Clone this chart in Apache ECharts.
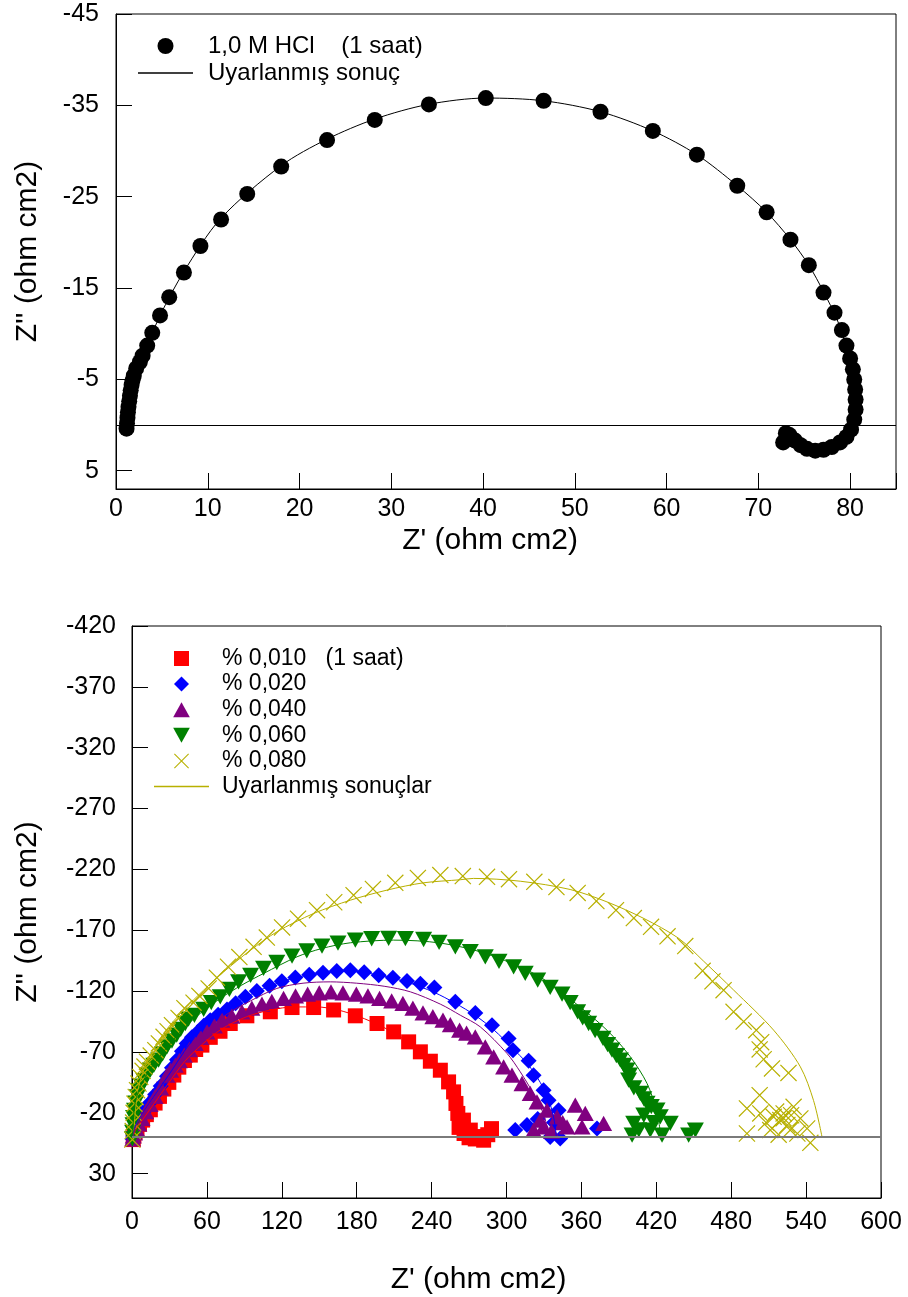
<!DOCTYPE html>
<html>
<head>
<meta charset="utf-8">
<title>Nyquist diyagramları</title>
<script src="https://cdn.jsdelivr.net/npm/echarts@6/dist/echarts.min.js"></script>
<style>
  html, body { margin: 0; padding: 0; background: #fff; }
  #chart { width: 908px; height: 1297px; }
</style>
</head>
<body>
<div id="chart"></div>
<script>
// ---- Top panel: 1,0 M HCl, 1 saat ----
const hclName = '1,0 M HCl    (1 saat)';
const hclFitName = 'Uyarlanmış sonuç';
const hclData = [
  [1.15, 0.4], [1.2, -0.2], [1.25, -0.8], [1.3, -1.4], [1.36, -2.0], [1.44, -2.6],
  [1.52, -3.2], [1.6, -3.8], [1.7, -4.4], [1.8, -4.9], [1.94, -5.4], [2.2, -6.2],
  [2.6, -6.9], [2.9, -7.6], [3.4, -8.7], [3.95, -10.1], [4.8, -12.0], [5.8, -14.0],
  [7.4, -16.7], [9.2, -19.6], [11.45, -22.5], [14.3, -25.3], [18.0, -28.3], [23.0, -31.2],
  [28.2, -33.4], [34.1, -35.1], [40.3, -35.8], [46.6, -35.5], [52.8, -34.3], [58.5, -32.2],
  [63.3, -29.6], [67.7, -26.2], [70.9, -23.3], [73.5, -20.3], [75.5, -17.5], [77.1, -14.5],
  [78.3, -12.3], [79.1, -10.4], [79.6, -8.7], [80.0, -7.3], [80.3, -6.1], [80.45, -5.0],
  [80.55, -3.9], [80.6, -2.8], [80.6, -1.7], [80.45, -0.6], [80.1, 0.5], [79.6, 1.3],
  [78.9, 1.9], [78.0, 2.4], [77.1, 2.7], [76.2, 2.8], [75.3, 2.6], [74.6, 2.2],
  [74.0, 1.7], [73.4, 1.1], [73.0, 0.9], [72.7, 1.9]
];
const hclFit = [
  [1.1, 0.3], [1.5, -3.0], [2.2, -6.2], [3.4, -8.7], [4.8, -12.0], [7.4, -16.8],
  [11.4, -22.6], [18.0, -28.4], [23.0, -31.3], [28.2, -33.5], [34.0, -35.1], [40.3, -35.8],
  [46.6, -35.5], [52.8, -34.3], [58.5, -32.2], [63.3, -29.6], [67.7, -26.2], [70.9, -23.3],
  [73.5, -20.3], [75.5, -17.5], [77.1, -14.6], [78.6, -11.5], [79.6, -8.5], [80.2, -5.5],
  [80.5, -2.5], [80.5, 0]
];
const topXTicks = [0, 10, 20, 30, 40, 50, 60, 70, 80];
const topYTicks = [-45, -35, -25, -15, -5, 5];

// ---- Bottom panel: inhibitor concentrations ----
const names = ['% 0,010   (1 saat)', '% 0,020', '% 0,040', '% 0,060', '% 0,080'];
const fitName = 'Uyarlanmış sonuçlar';

const p010 = [
  [1, 2], [1.5, -1], [2.5, -4], [4, -7], [6, -10.5], [8.5, -14], [11.5, -18.5], [14.7, -22.5],
  [18.5, -28], [22, -33.5], [25.5, -39.5], [29.5, -45], [33.5, -51], [37.5, -57.5], [42, -63],
  [46.7, -67.4], [51, -72], [56, -75.6], [62.7, -82], [70.5, -87], [78.7, -93.4], [92, -99.7],
  [110.8, -103], [128.2, -106.5], [145.5, -106.5], [161.5, -104.5], [178.9, -99.7], [196.3, -93.4],
  [209.6, -86.5], [221.6, -78.3], [231, -70.1], [239, -62.4], [247, -55], [253.6, -45.4],
  [257.6, -37.2], [259.5, -27.7], [261, -19.5], [265.5, -14], [262, -8], [266, -3], [271, -5.8],
  [270, 0.5], [275, 1.5], [280, 1], [276.4, -0.5], [285, -2], [288, -7], [281.7, 2.5]
];
const p020 = [
  [0.5, 1.5], [1, -1], [2, -4], [3.5, -8], [5.5, -12], [8, -17], [11, -22.5], [14.5, -28.5],
  [18.5, -35], [23, -42], [28, -50], [32, -57], [36, -63.5], [40, -70.5], [43.8, -77], [48, -82],
  [52.6, -86.5], [57.5, -91.5], [62.7, -96.1], [69, -100.5], [76.1, -104.9], [83, -110],
  [90.8, -115.3], [100, -120], [110.2, -124.3], [120, -128], [130.8, -131.2], [142, -133.5],
  [153, -135], [164, -136.5], [174.9, -137.2], [186, -135.5], [197.6, -133.1], [209, -131],
  [220.3, -128.4], [231, -126], [242.2, -123], [259, -111.2], [275, -102.1], [288.4, -92],
  [301.7, -81.1], [305.2, -71.5], [317.7, -62.7], [321.7, -50.9], [329.7, -38.6], [333.7, -30.4],
  [341.7, -22.2], [325, -15], [338, -12], [307, -5.8], [316.4, -9.9], [335, -0.2], [343, 1.1],
  [372.5, -7.1]
];
const p040 = [
  [0.5, 1.5], [1, -1], [2, -3.5], [3.5, -7], [5.5, -11], [8, -15.5], [11, -21], [14.5, -27],
  [18.5, -33.5], [23, -40.5], [28, -50.9], [31, -55], [34.7, -59.2], [38, -63], [41.9, -67.4],
  [46, -72], [50.7, -77], [55, -82], [60.1, -86.5], [66, -91.5], [72.1, -96.1], [80, -99.5],
  [88.1, -103], [96, -106], [104.1, -109.3], [112, -111.5], [121.4, -114], [131, -116],
  [140.7, -117.5], [150, -118.5], [159.4, -119.4], [169, -118.5], [179.7, -117.5], [189, -116],
  [198.3, -114], [208, -112], [217, -109.9], [225, -106], [233.1, -102.1], [241, -99],
  [249.1, -96.1], [255, -92.5], [262.4, -87.9], [268, -85.5], [275, -82.4], [283, -74.2],
  [289.7, -66], [297.7, -57.8], [304.4, -50.9], [312.4, -44.1], [319, -35.9], [324.4, -29],
  [332.4, -22.2], [340.5, -16.7], [355.1, -26.3], [363.1, -19.5], [377.8, -11.3], [321.7, -5.8],
  [348.5, -8.5], [360.5, -8.5], [329.7, -8.5], [327, -14], [336, -5], [345, -12]
];
const p060 = [
  [0.3, 1.5], [0.5, -4], [0.8, -10], [1.2, -16], [2, -22], [3, -28], [4.3, -33], [5.8, -38],
  [7.5, -42], [9.5, -46.5], [12, -51], [14.7, -55], [17.5, -59], [21.3, -63.3], [24.5, -68.5],
  [28, -74.2], [32, -79], [35.8, -83.8], [39, -88.5], [42.7, -93.4], [45.3, -97], [50, -100],
  [57.4, -105], [63.5, -110.5], [70.7, -115.3], [78, -121.5], [85.4, -127.6], [95, -133],
  [105.4, -138.6], [116, -143.5], [128.2, -148.7], [140, -153], [152.2, -157], [165, -159.5],
  [178.9, -161.9], [192, -163], [205.6, -163.3], [219, -163.2], [233.6, -162.4], [246, -160],
  [259, -156.4], [271, -152.5], [283, -148.2], [294, -144.5], [305.7, -139.9], [315, -134.5],
  [325, -129], [335, -123], [344.5, -117.5], [351, -110.5], [357, -103], [361, -98],
  [365.8, -93.4], [371, -87.5], [377.3, -81.1], [381, -76], [384.5, -71.5], [388, -67],
  [391.2, -63.3], [394, -59], [396.5, -55], [398.5, -51], [397.8, -46.8], [402, -40.5],
  [407.2, -35.9], [410, -31.5], [412.6, -27.7], [416, -25], [420.6, -22.2], [423.2, -16.7],
  [410, -18], [418, -12], [431.2, -11.3], [401.9, -11.3], [406, -6], [415.2, -5.8],
  [400.6, -1.6], [424.6, -1.6], [445.9, -1.6], [451.3, -5.8]
];
const p080 = [
  [0.3, 2], [0.6, -5], [0.9, -12], [1.3, -20], [2, -27.5], [3, -33], [4, -38.6], [5.2, -44],
  [6.6, -49.5], [8.5, -54.5], [10, -58], [12, -62], [15, -67], [18.7, -71.5], [21.5, -77],
  [25.3, -82.4], [28.5, -87], [32, -92], [37.3, -98], [42, -106], [49.3, -110.5], [54, -116],
  [61.4, -122.2], [68, -131], [76.9, -140], [86, -148], [97.4, -156.4], [108, -164],
  [120.2, -172.3], [133, -179.5], [148.2, -186.5], [162, -193], [177.5, -198.8], [193, -204],
  [210.9, -209], [229, -213], [247, -215.3], [265, -214.5], [284.4, -213.9], [302, -212],
  [322.3, -209.8], [340, -205.5], [357, -200.7], [372, -194], [387.7, -186.5], [402, -180],
  [415.8, -172.8], [429, -165], [443.2, -157], [457.1, -136.7], [465, -128], [473.9, -120.8],
  [481.9, -103], [490, -95], [500.1, -87.9], [504, -78], [502.8, -72.1], [506, -64],
  [512.7, -56.5], [525.9, -52.8], [502.8, -34.5], [492.6, -23.6], [503.3, -19.5], [514, -16.7],
  [522, -19.5], [530, -24.9], [516, -21], [528, -18], [522, -15.5], [535.4, -15.4],
  [519.4, -14], [508, -12], [525, -10], [540.8, -7.1], [511.3, -5.8], [527.3, -5.8],
  [492.6, -3], [518, -2], [533, -3], [543.4, 4.7]
];

const fit010 = [
  [0.5, 0], [3, -6], [9, -15], [18, -28], [29, -44], [42, -62], [56, -76], [72, -89], [92, -99],
  [111, -104.5], [130, -107], [148, -107], [165, -104.5], [182, -99], [200, -91], [214, -83],
  [228, -72], [240, -60], [250, -46], [257, -31], [261, -15], [263, 0]
];
const fit020 = [
  [0.5, 0], [3, -10], [10, -22], [20, -37], [32, -55], [45, -75], [60, -93], [76, -105],
  [91, -115], [110, -124], [131, -131], [153, -135], [175, -136.5], [198, -133], [220, -127.5],
  [242, -119], [259, -110], [275, -100], [290, -88], [304, -74], [317, -60], [327, -45],
  [334, -30], [338, -15], [340, 0]
];
const fit040 = [
  [0.5, 0], [3, -9], [10, -21], [20, -36], [32, -53], [45, -72], [60, -88], [76, -101],
  [95, -112], [116, -122.2], [137, -126.5], [158.9, -127.6], [180, -126.5], [202, -124],
  [223, -119.4], [247, -109.3], [263, -100.2], [279, -90.6], [300.4, -68.8], [311, -53.7],
  [322, -35], [330, -18], [334, 0]
];
const fit060 = [
  [0.5, 0], [2, -25], [6, -40], [14, -55], [25, -70], [40, -88], [55, -102], [70.7, -114],
  [88, -125], [105.4, -134.5], [132.2, -148.2], [152, -155], [174.9, -159.7], [209.6, -161.9],
  [247, -159.5], [283, -151], [324.4, -133.1], [353.8, -111.2], [380.5, -87.9], [399.2, -66],
  [412.6, -44.1], [420, -22], [424, 0]
];
const fit080 = [
  [1, 0], [5, -40], [12, -62], [25.3, -85.2], [41.3, -104.4], [57.4, -120.8], [73.4, -135.8],
  [94.9, -153.6], [116, -168.7], [145.5, -183.8], [174.9, -194.7], [204.3, -203], [233.6, -209],
  [263, -211.5], [273.6, -212.6], [311, -210.3], [351, -203.5], [380.5, -193.3], [410, -179.7],
  [438, -163.3], [458, -144.5], [482, -120.8], [514, -87.9], [535.4, -57.8], [546, -30],
  [552.8, 0]
];
const botXTicks = [0, 60, 120, 180, 240, 300, 360, 420, 480, 540, 600];
const botYTicks = [-420, -370, -320, -270, -220, -170, -120, -70, -20, 30];

// ---- styling ----
const FONT = "'Liberation Sans', Arial, Helvetica, sans-serif";
const colors = ['#ff0000', '#0000ff', '#800080', '#008000', '#b8b000'];
const LINE_ICON = 'path://M0,0H55V1.4H0Z';
const SQUARE = 'path://M0,0H10V10H0Z';
const DIAMOND = 'path://M5,0L10,5L5,10L0,5Z';
const UP_TRI = 'path://M10,0L20,18L0,18Z';
const DOWN_TRI = 'path://M0,0L20,0L10,18Z';
const CROSS = 'path://M0,0.5L0.5,0L5,4.5L9.5,0L10,0.5L5.5,5L10,9.5L9.5,10L5,5.5L0.5,10L0,9.5L4.5,5Z';
const markers = [SQUARE, DIAMOND, UP_TRI, DOWN_TRI, CROSS];
const markerSizes = [15, 16, 17, 17, 17];

function tickFormatter(list) {
  return v => (list.indexOf(v) >= 0 ? String(v) : '');
}

function valueAxis(opts) {
  return Object.assign({
    type: 'value',
    axisLine: { show: true, onZero: false, lineStyle: { color: '#000', width: 1 } },
    axisTick: { show: true, inside: true, length: 16, lineStyle: { color: '#000', width: 1 } },
    splitLine: { show: false },
    nameLocation: 'middle',
  }, opts);
}

const bottomScatter = names.map((n, i) => ({
  name: n, type: 'scatter', xAxisIndex: 1, yAxisIndex: 1,
  data: [p010, p020, p040, p060, p080][i],
  symbol: markers[i], symbolKeepAspect: true, symbolSize: markerSizes[i], z: 3,
  itemStyle: { color: colors[i], opacity: 1 }
}));
bottomScatter[0].markLine = {
  silent: true, symbol: 'none', label: { show: false },
  lineStyle: { color: '#7a7a7a', width: 2, type: 'solid' },
  data: [{ yAxis: 0 }]
};

// fitted curves; the yellow one comes first so the legend takes its colour
const fitSets = [[fit080, colors[4]], [fit010, colors[0]], [fit020, colors[1]], [fit040, colors[2]], [fit060, colors[3]]];
const bottomFits = fitSets.map(([d, c]) => ({
  name: fitName, type: 'line', xAxisIndex: 1, yAxisIndex: 1, data: d,
  smooth: 0.3, symbol: 'none', z: 4,
  itemStyle: { color: c }, lineStyle: { color: c, width: 1 }
}));

const option = {
  animation: false,
  backgroundColor: '#ffffff',
  textStyle: { fontFamily: FONT, color: '#000' },
  grid: [
    { left: 116, top: 14, width: 780, height: 475, show: true, borderColor: '#000', borderWidth: 1 },
    { left: 132, top: 626, width: 749, height: 572, show: true, borderColor: '#000', borderWidth: 1 }
  ],
  xAxis: [
    valueAxis({
      gridIndex: 0, min: 0, max: 85, interval: 10,
      axisLabel: { fontSize: 25, color: '#000', margin: 8, fontFamily: FONT, formatter: tickFormatter(topXTicks) },
      name: "Z' (ohm cm2)", nameGap: 37,
      nameTextStyle: { fontSize: 30, color: '#000', fontFamily: FONT, padding: [0, 32, 0, 0] }
    }),
    valueAxis({
      gridIndex: 1, min: 0, max: 600, interval: 60,
      axisLabel: { fontSize: 25, color: '#000', margin: 12, fontFamily: FONT, formatter: tickFormatter(botXTicks) },
      name: "Z' (ohm cm2)", nameGap: 67,
      nameTextStyle: { fontSize: 30, color: '#000', fontFamily: FONT, padding: [0, 56, 0, 0] }
    })
  ],
  yAxis: [
    valueAxis({
      gridIndex: 0, inverse: true, min: -45, max: 7, interval: 10,
      axisLabel: { fontSize: 25, color: '#000', margin: 17, fontFamily: FONT, formatter: tickFormatter(topYTicks) },
      name: "Z'' (ohm cm2)", nameGap: 73,
      nameTextStyle: { fontSize: 30, color: '#000', fontFamily: FONT }
    }),
    valueAxis({
      gridIndex: 1, inverse: true, min: -420, max: 50, interval: 50,
      axisLabel: { fontSize: 25, color: '#000', margin: 16, fontFamily: FONT, formatter: tickFormatter(botYTicks) },
      name: "Z'' (ohm cm2)", nameGap: 89,
      nameTextStyle: { fontSize: 30, color: '#000', fontFamily: FONT }
    })
  ],
  legend: [
    {
      orient: 'vertical', left: 138, top: 34, padding: 0,
      itemWidth: 55, itemHeight: 16, itemGap: 3, symbolKeepAspect: true,
      textStyle: { fontSize: 24, color: '#000', fontFamily: FONT, lineHeight: 20, padding: [0, 0, 0, 10] },
      data: [{ name: hclName, icon: 'circle' }, { name: hclFitName, icon: LINE_ICON }]
    },
    {
      orient: 'vertical', left: 154, top: 647, padding: 0,
      itemWidth: 55, itemHeight: 15, itemGap: 2.6, symbolKeepAspect: true,
      textStyle: { fontSize: 23, color: '#000', fontFamily: FONT, lineHeight: 20, padding: [0, 0, 0, 8] },
      data: names.map((n, i) => ({ name: n, icon: markers[i] })).concat([{ name: fitName, icon: LINE_ICON }])
    }
  ],
  series: [
    {
      name: hclFitName, type: 'line', xAxisIndex: 0, yAxisIndex: 0, data: hclFit,
      smooth: 0.3, symbol: 'none', z: 2,
      itemStyle: { color: '#000' }, lineStyle: { color: '#000', width: 1 }
    },
    {
      name: hclName, type: 'scatter', xAxisIndex: 0, yAxisIndex: 0, data: hclData,
      symbol: 'circle', symbolSize: 16, z: 3,
      itemStyle: { color: '#000', opacity: 1 },
      markLine: {
        silent: true, symbol: 'none', label: { show: false },
        lineStyle: { color: '#000', width: 1, type: 'solid' },
        data: [{ yAxis: 0 }]
      }
    }
  ].concat(bottomScatter, bottomFits)
};

const chart = echarts.init(document.getElementById('chart'), null, { renderer: 'canvas' });
chart.setOption(option);
</script>
</body>
</html>
